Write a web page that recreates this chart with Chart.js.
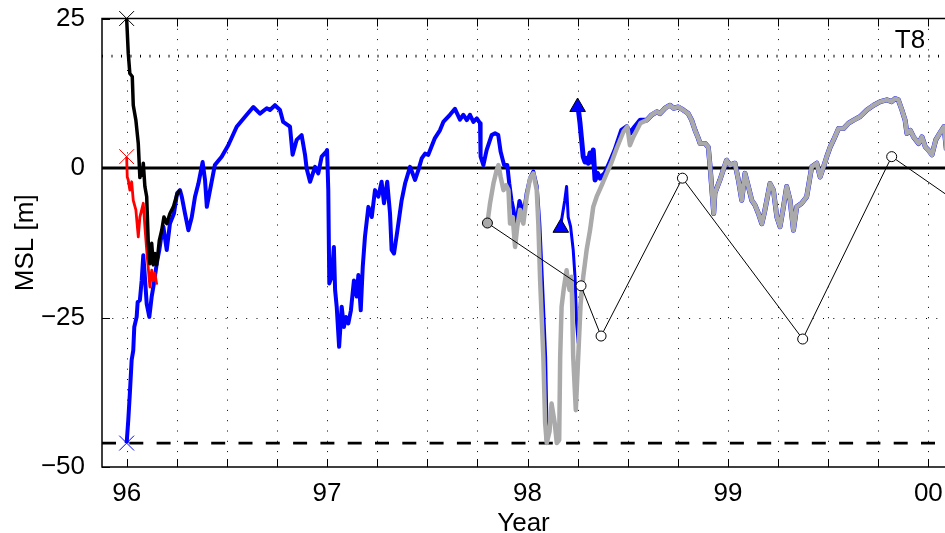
<!DOCTYPE html>
<html>
<head>
<meta charset="utf-8">
<script src="https://cdn.jsdelivr.net/npm/chart.js@4.4.1/dist/chart.umd.min.js"></script>
<style>
  html, body { margin: 0; padding: 0; background: #fff; }
  canvas { display: block; }
</style>
</head>
<body>
<canvas id="msl" width="945" height="533"></canvas>
<script>
// axis range
const xMin = 95.877;
const xMax = 100.083;
const yTicks = [-50, -25, 0, 25];

// reference levels
const zeroLevel = 0;
const upperLevel = 18.7;
const lowerLevel = -46;

// black profile
const blackYear = [96.000, 96.008, 96.016, 96.028, 96.033, 96.046, 96.058, 96.066, 96.072, 96.078, 96.083,
  96.091, 96.100, 96.108, 96.116, 96.125, 96.133, 96.141, 96.150, 96.163, 96.175, 96.186, 96.200,
  96.216, 96.233, 96.250, 96.266];
const blackMsl = [25.0, 19.2, 15.8, 15.3, 10.5, 8.0, 4.1, -1.6, -0.5, -1.2, 0.8,
  -3.1, -4.8, -12.6, -16.0, -12.6, -16.2, -14.3, -16.2, -12.1, -10.4, -8.2, -9.3,
  -7.6, -6.5, -4.5, -3.7];

// red profile
const redYear = [96.000, 96.003, 96.008, 96.016, 96.025, 96.033, 96.046, 96.058, 96.066, 96.075, 96.083,
  96.091, 96.100, 96.116, 96.125, 96.133, 96.141, 96.150];
const redMsl = [1.9, -1.5, -2.0, -3.7, -2.3, -5.4, -7.0, -11.5, -8.2, -7.0, -5.9,
  -9.8, -13.7, -19.9, -17.1, -18.8, -17.6, -19.5];

// blue record, first part
const blueYearA = [96.000, 96.008, 96.016, 96.025, 96.033, 96.038, 96.050, 96.055, 96.066, 96.075, 96.083,
  96.091, 96.100, 96.113, 96.125, 96.136, 96.150, 96.163, 96.170, 96.183, 96.200, 96.216, 96.236,
  96.252, 96.266, 96.275, 96.291, 96.308, 96.325, 96.341, 96.358, 96.379, 96.391, 96.400, 96.416,
  96.440, 96.474, 96.507, 96.549, 96.599, 96.632, 96.665, 96.699, 96.715, 96.740, 96.765, 96.781,
  96.815, 96.828, 96.848, 96.873, 96.890, 96.898, 96.915, 96.940, 96.956, 96.973, 96.995, 97.000,
  97.006, 97.011, 97.023, 97.034, 97.040, 97.048, 97.060, 97.073, 97.084, 97.094, 97.106, 97.119,
  97.134, 97.148, 97.156, 97.168, 97.178, 97.189, 97.206, 97.223, 97.239, 97.256, 97.272, 97.284,
  97.300, 97.314, 97.322, 97.334, 97.351, 97.372, 97.389, 97.414, 97.439, 97.455, 97.472, 97.489,
  97.505, 97.538, 97.563, 97.580, 97.613, 97.638, 97.663, 97.680, 97.697, 97.713, 97.730, 97.747,
  97.763, 97.766, 97.780, 97.796, 97.821, 97.838, 97.854, 97.866, 97.883, 97.899, 97.909, 97.920,
  97.930, 97.940, 97.949, 97.960, 97.970, 97.980, 97.996, 98.013, 98.029, 98.046, 98.059, 98.071,
  98.088, 98.096];
const blueMslA = [-46.0, -42.2, -37.7, -32.1, -30.5, -26.6, -24.9, -22.4, -22.1, -18.8, -14.6,
  -18.2, -22.7, -24.9, -21.5, -19.3, -16.0, -13.7, -12.1, -9.8, -13.7, -9.3, -7.6,
  -4.2, -3.7, -4.8, -7.6, -10.4, -8.2, -4.8, -2.6, 1.0, -2.0, -6.5, -3.7,
  0.5, 1.9, 3.8, 6.9, 8.9, 10.2, 9.1, 10.0, 9.7, 10.5, 9.7, 7.7,
  6.9, 2.2, 4.7, 5.5, 2.2, -0.1, -2.3, 0.2, -0.9, 1.9, 2.7, 3.0,
  -3.7, -19.3, -18.2, -13.2, -20.4, -23.2, -29.9, -23.2, -26.6, -24.9, -26.0, -23.8,
  -18.8, -21.5, -17.9, -23.8, -16.5, -11.5, -6.5, -8.2, -3.7, -4.8, -2.3, -5.9,
  -2.3, -7.6, -13.7, -14.3, -10.4, -5.4, -2.6, 0.2, -2.0, -0.4, 1.6, 2.4,
  2.2, 5.0, 6.3, 7.7, 8.9, 9.9, 8.1, 8.9, 8.0, 8.9, 7.7, 8.3,
  7.5, 1.9, 0.5, 3.0, 5.5, 5.8, 5.5, 2.7, 0.5, 0.5, -2.6, -5.4,
  -7.0, -9.8, -8.2, -5.5, -6.5, -8.0, -4.2, -1.7, -0.6, -3.1, -9.3, -18.2,
  -31.6, -45.5];

// blue record, segment starting at the lower triangle
const blueYearB = [98.163, 98.170, 98.186, 98.195, 98.203, 98.215, 98.228, 98.237, 98.245, 98.253, 98.262,
  98.270, 98.278, 98.295, 98.312, 98.328, 98.345, 98.370, 98.395, 98.420];
const blueMslB = [-10.4, -8.7, -5.4, -3.1, -8.2, -9.8, -13.7, -18.2, -26.0, -29.3, -23.2,
  -20.4, -18.2, -13.7, -10.4, -6.5, -4.8, -2.9, -0.9, 1.0];

// blue record, segment starting at the upper triangle (joins the grey record afterwards)
const blueYearC = [98.253, 98.262, 98.270, 98.278, 98.287, 98.295, 98.303, 98.312, 98.320, 98.328, 98.337,
  98.349, 98.362, 98.387, 98.412, 98.437, 98.470, 98.495, 98.511, 98.536, 98.563];
const blueMslC = [10.0, 7.5, 4.7, 1.9, 1.0, 1.6, 0.8, 2.5, 1.0, 3.0, -2.0,
  -0.9, -1.7, -0.9, 1.0, 3.0, 6.3, 6.9, 5.8, 6.9, 8.0];

// grey record
const greyYear = [97.800, 97.813, 97.830, 97.846, 97.855, 97.866, 97.880, 97.893, 97.905, 97.913, 97.926,
  97.938, 97.949, 97.963, 97.979, 97.996, 98.013, 98.029, 98.046, 98.054, 98.063, 98.079, 98.088,
  98.096, 98.110, 98.120, 98.136, 98.146, 98.158, 98.163, 98.170, 98.182, 98.195, 98.203, 98.210,
  98.220, 98.228, 98.241, 98.253, 98.265, 98.278, 98.295, 98.312, 98.328, 98.345, 98.370, 98.395,
  98.420, 98.445, 98.479, 98.498, 98.511, 98.528, 98.563, 98.595, 98.620, 98.645, 98.661, 98.686,
  98.711, 98.728, 98.753, 98.777, 98.802, 98.819, 98.836, 98.852, 98.861, 98.886, 98.902, 98.911,
  98.924, 98.929, 98.935, 98.960, 98.993, 99.010, 99.035, 99.052, 99.069, 99.085, 99.102, 99.119,
  99.135, 99.152, 99.169, 99.181, 99.194, 99.210, 99.227, 99.244, 99.260, 99.277, 99.293, 99.310,
  99.327, 99.343, 99.368, 99.393, 99.418, 99.443, 99.460, 99.477, 99.493, 99.510, 99.527, 99.552,
  99.577, 99.602, 99.627, 99.660, 99.693, 99.727, 99.760, 99.793, 99.817, 99.834, 99.850, 99.868,
  99.884, 99.893, 99.910, 99.926, 99.951, 99.968, 99.985, 100.000, 100.018, 100.037, 100.062, 100.078,
  100.090];
const greyMsl = [-9.2, -5.9, -2.6, -0.4, 0.5, -1.5, -3.7, -2.9, -3.7, -9.3, -8.2,
  -13.2, -9.8, -7.0, -9.3, -4.8, -1.7, -0.9, -3.7, -9.3, -18.8, -31.6, -42.7,
  -46.0, -44.0, -39.4, -42.7, -46.0, -45.5, -31.6, -23.2, -19.9, -17.1, -19.3, -20.4,
  -18.2, -31.6, -40.5, -31.6, -22.7, -18.2, -13.7, -10.4, -6.5, -4.8, -2.9, -0.9,
  1.0, 3.3, 6.1, 6.9, 3.8, 5.2, 7.5, 8.0, 8.9, 9.4, 9.1, 10.0,
  10.5, 10.0, 10.2, 9.7, 9.1, 8.0, 6.3, 5.0, 4.1, 4.1, 3.5, 0.2,
  -5.4, -7.6, -4.2, -2.0, 1.3, 0.5, 0.8, -2.0, -5.4, -0.9, -3.1, -5.4,
  -6.2, -7.6, -9.3, -7.6, -5.4, -2.6, -3.7, -8.2, -9.8, -6.5, -3.1, -5.4,
  -10.4, -6.5, -5.9, -4.8, 0.2, 0.8, -1.5, 0.2, 1.9, 3.5, 4.7, 6.6,
  6.6, 7.5, 8.0, 8.6, 9.7, 10.5, 11.1, 11.4, 11.1, 11.6, 11.4, 9.7,
  8.0, 5.8, 6.3, 5.2, 4.1, 5.2, 3.5, 3.0, 2.2, 4.7, 6.1, 6.9,
  3.0];

// survey points joined by a thin line
const surveyYear = [97.800, 98.267, 98.367, 98.773, 99.373, 99.817, 100.500];
const surveyMsl = [-9.2, -19.7, -28.1, -1.7, -28.6, 1.9, -14.0];

// start markers
const startYear = [96.0, 96.0, 96.0];
const startMsl = [25.0, 1.9, -46.0];
const triYear = [98.166, 98.250];
const triMsl = [-10.0, 10.2];

const pts = (xs, ys) => xs.map((x, i) => ({ x: x, y: ys[i] }));
const level = v => [{ x: xMin, y: v }, { x: xMax, y: v }];

// grey record after it meets the upper blue segment is shared by both
const greyJoin = greyYear.findIndex(v => v > 98.57);
const blueTail = pts(blueYearC, blueMslC).concat(pts(greyYear.slice(greyJoin), greyMsl.slice(greyJoin)));

const FONT = 'Liberation Sans, Arial, Helvetica, sans-serif';

// dotted grid, inward ticks and axes box
const axesBox = {
  id: 'axesBox',
  beforeDatasetsDraw(chart) {
    const { ctx, chartArea: a, scales: { x, y } } = chart;
    ctx.save();
    ctx.strokeStyle = '#000';
    ctx.lineWidth = 1;
    ctx.setLineDash([1, 9.3]);
    for (let i = 0; 96 + i * 0.25 <= x.max; i++) {
      const px = Math.round(x.getPixelForValue(96 + i * 0.25)) + 0.5;
      ctx.beginPath();
      ctx.moveTo(px, a.top);
      ctx.lineTo(px, a.bottom);
      ctx.stroke();
    }
    yTicks.forEach(v => {
      if (v === y.min || v === y.max) return;
      const py = Math.round(y.getPixelForValue(v)) + 0.5;
      ctx.beginPath();
      ctx.moveTo(a.left, py);
      ctx.lineTo(a.right, py);
      ctx.stroke();
    });
    ctx.restore();
  },
  afterDatasetsDraw(chart) {
    const { ctx, chartArea: a, scales: { x, y } } = chart;
    ctx.save();
    ctx.strokeStyle = '#000';
    ctx.lineWidth = 1;
    ctx.beginPath();
    for (let i = 0; 96 + i * 0.25 <= x.max; i++) {
      const px = Math.round(x.getPixelForValue(96 + i * 0.25)) + 0.5;
      ctx.moveTo(px, a.bottom);
      ctx.lineTo(px, a.bottom - 8);
      ctx.moveTo(px, a.top);
      ctx.lineTo(px, a.top + 8);
    }
    yTicks.forEach(v => {
      const py = Math.round(y.getPixelForValue(v)) + 0.5;
      ctx.moveTo(a.left, py);
      ctx.lineTo(a.left + 8, py);
    });
    ctx.stroke();
    ctx.lineWidth = 1.5;
    ctx.beginPath();
    ctx.moveTo(a.right, a.top);
    ctx.lineTo(a.left, a.top);
    ctx.lineTo(a.left, a.bottom);
    ctx.lineTo(a.right, a.bottom);
    ctx.stroke();
    // transect name
    ctx.fillStyle = '#000';
    ctx.font = '26px ' + FONT;
    ctx.textAlign = 'center';
    ctx.textBaseline = 'middle';
    ctx.fillText('T8', 910, 41);
    ctx.restore();
  }
};

const line = (data, color, width, order, extra) => Object.assign({
  data: data,
  borderColor: color,
  borderWidth: width,
  pointRadius: 0,
  fill: false,
  tension: 0,
  borderJoinStyle: 'round',
  order: order
}, extra || {});

// keep the plot box fixed, whatever room the tick labels ask for
const noScalePadding = s => {
  s.paddingTop = 0;
  s.paddingBottom = 0;
  s.paddingLeft = 0;
  s.paddingRight = 0;
};

new Chart(document.getElementById('msl'), {
  type: 'line',
  data: {
    datasets: [
      line(pts(startYear, startMsl), '#000', 1, 0, {
        showLine: false, pointStyle: 'crossRot', pointRadius: 10.5,
        pointBorderColor: ['#000', '#ff0000', '#0000ff'], pointBorderWidth: 1, clip: false
      }),
      line(pts(triYear, triMsl), '#000', 1, 1, {
        showLine: false, pointStyle: 'triangle', pointRadius: 9,
        pointBackgroundColor: '#0000ff', pointBorderColor: '#000', pointBorderWidth: 1, clip: false
      }),
      line(pts(surveyYear, surveyMsl), '#000', 1, 2, {
        pointRadius: 5, pointHoverRadius: 5,
        pointBackgroundColor: ['#aaaaaa', '#fff', '#fff', '#fff', '#fff', '#fff', '#fff'],
        pointBorderColor: '#000', pointBorderWidth: 1
      }),
      line(pts(blackYear, blackMsl), '#000', 3.5, 3),
      line(pts(redYear, redMsl), '#ff0000', 2.8, 4),
      line(pts(greyYear, greyMsl), '#aaaaaa', 4.5, 5),
      line(blueTail, '#0000ff', 5, 6),
      line(pts(blueYearB, blueMslB), '#0000ff', 3, 7),
      line(pts(blueYearA, blueMslA), '#0000ff', 4, 8),
      line(level(zeroLevel), '#000', 3, 9),
      line(level(upperLevel), '#000', 2.7, 10, { borderDash: [1, 8.5], borderCapStyle: 'butt' }),
      line(level(lowerLevel), '#000', 2.8, 11, { borderDash: [14, 13.3], borderCapStyle: 'butt' })
    ]
  },
  options: {
    responsive: false,
    animation: false,
    devicePixelRatio: 1,
    layout: { autoPadding: false, padding: { top: 18.5, right: 0, left: 0, bottom: 0 } },
    plugins: { legend: { display: false }, tooltip: { enabled: false } },
    events: [],
    scales: {
      x: {
        type: 'linear',
        min: xMin,
        max: xMax,
        grid: { display: false },
        border: { display: false },
        afterFit: s => { s.height = 66; noScalePadding(s); },
        ticks: {
          stepSize: 1,
          includeBounds: false,
          autoSkip: false,
          maxRotation: 0,
          padding: 3,
          color: '#000',
          font: { family: FONT, size: 26 },
          callback: v => String(Math.round(v) % 100).padStart(2, '0')
        },
        title: {
          display: true,
          text: 'Year',
          color: '#000',
          font: { family: FONT, size: 26, lineHeight: 1 },
          padding: { top: 0, bottom: -3.5 }
        }
      },
      y: {
        min: -50,
        max: 25,
        grid: { display: false },
        border: { display: false },
        afterFit: s => { s.width = 102; noScalePadding(s); },
        afterBuildTicks: s => { s.ticks = yTicks.map(v => ({ value: v })); },
        ticks: {
          padding: 9,
          color: '#000',
          font: { family: FONT, size: 26 },
          callback: v => String(v).replace('-', '\u2212')
        },
        title: {
          display: true,
          text: 'MSL [m]',
          color: '#000',
          font: { family: FONT, size: 26, lineHeight: 1 },
          padding: { top: 13, bottom: 0 }
        }
      }
    }
  },
  plugins: [axesBox]
});
</script>
</body>
</html>
